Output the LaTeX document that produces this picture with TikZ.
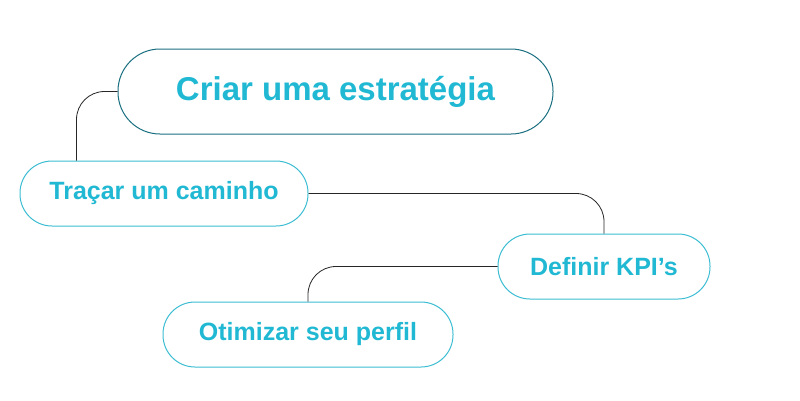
\documentclass[tikz,border=0pt]{standalone}
\usepackage{fontspec}
\setmainfont{Liberation Sans}
\usepackage{tikz}
\usetikzlibrary{positioning}

\definecolor{kpicyan}{HTML}{20B8D2}
\definecolor{kpiteal}{HTML}{1A6F80}
\definecolor{kpiline}{HTML}{3CBDD3}

\begin{document}
\begin{tikzpicture}[x=1pt, y=-1pt,
  every node/.style={font=\bfseries\fontsize{25}{29}\selectfont, text=kpicyan},
  pill/.style={draw=kpiline, line width=1pt, rounded corners=32pt, minimum height=65pt},
  conn/.style={draw=black!85, line width=0.8pt, rounded corners=28pt}]
  \useasboundingbox (0,0) rectangle (800,400);

  \node[pill, draw=kpiteal, rounded corners=42pt, minimum width=435pt, minimum height=85pt,
        font=\bfseries\fontsize{33}{38}\selectfont] (criar) at (335.5,91.5) {Criar uma estratégia};
  \node[pill, minimum width=288pt] (tracar) at (164,193.5) {Traçar um caminho};
  \node[pill, minimum width=212pt] (kpi) at (604,266.5) {Definir KPI’s};
  \node[pill, minimum width=290pt] (perfil) at (308,334.5) {Otimizar seu perfil};

  \draw[conn] (criar.west) -| ([xshift=57pt]tracar.north west);
  \draw[conn] (tracar.east) -| (kpi.north);
  \draw[conn] (kpi.west) -| (perfil.north);
\end{tikzpicture}
\end{document}
